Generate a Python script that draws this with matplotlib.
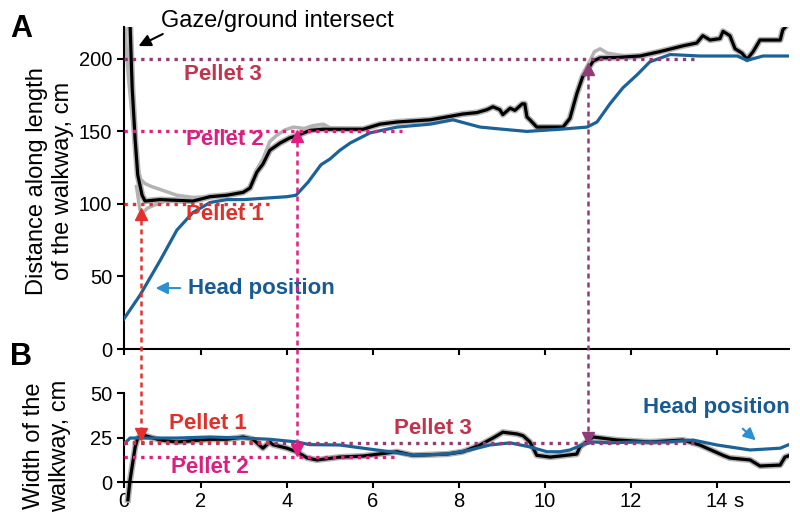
import matplotlib.pyplot as plt
from matplotlib.lines import Line2D

plt.rcParams['font.family'] = ['Liberation Sans', 'DejaVu Sans']

# couleurs
BLUE = '#1b6299'
BLUE_TXT = '#175a94'
ARROW_BLUE = '#2b8fd3'
RED = '#e5312b'
MAGENTA = '#e01f84'
PURPLE = '#8f3d78'
P3_TXT = '#c2334e'
GRAY = '#b3b3b3'

# --- A: distance along length of the walkway (cm) ---
head_t = [0.19, 0.58, 1.05, 1.44, 1.81, 2.21, 2.6, 3.0, 3.49, 4.0, 4.21, 4.49, 4.79, 5.0,
          5.23, 5.47, 5.93, 6.56, 7.33, 7.86, 8.49, 9.02, 9.58, 10.35, 10.98, 11.21, 11.51,
          11.81, 12.14, 12.44, 12.91, 13.6, 14.47, 14.7, 15.07, 15.65]
head_v = [20, 37, 61, 82, 94, 101, 103, 103, 104, 105, 106, 115, 127, 131,
          137, 142, 149, 153, 155, 158, 153, 151.5, 150, 151.5, 153, 156.5, 169,
          180, 189, 198, 203, 202, 202, 199, 202, 202]

gaze_t = [0.3, 0.35, 0.4, 0.47, 0.53, 0.63, 0.7, 1.05, 1.81, 2.21, 2.6, 2.98, 3.14, 3.3,
          3.44, 3.6, 3.84, 4.07, 4.23, 4.53, 4.84, 5.77, 6.16, 6.56, 7.33, 7.72, 8.09, 8.42,
          8.65, 8.79, 8.95, 9.02, 9.19, 9.3, 9.47, 9.53, 9.58, 9.65, 9.81, 10.12, 10.42,
          10.58, 10.74, 10.88, 11.0, 11.12, 11.28, 11.67, 12.21, 12.67, 13.21, 13.53, 13.67,
          13.84, 14.07, 14.14, 14.3, 14.42, 14.58, 14.7, 14.84, 15.0, 15.47, 15.53, 15.65]
gaze_v = [240, 225, 180, 144, 120, 106, 102, 103, 102, 105, 106, 108, 111, 122,
          127.5, 137, 142, 145.6, 147, 150.7, 151.5, 151.5, 155, 156.5, 158, 160, 162, 163,
          165, 167, 165, 161.6, 166, 164.5, 169, 169, 160, 158, 153, 153, 153,
          159, 176, 188, 193, 198.5, 200.7, 201, 202, 205, 209, 211, 216,
          213, 214, 219, 216, 207, 204, 199.7, 205, 213, 213, 220, 224]

# second estimate (gray) where it departs from the black trace
gray_traces = [
    ([0.2, 0.25, 0.32, 0.4, 0.5, 0.6, 0.7, 0.85, 1.05, 1.44, 1.81, 2.2, 2.6],
     [240, 212, 185, 160, 128, 117, 114, 112, 110, 106, 104.5, 105, 106]),
    ([0.5, 0.58, 0.65, 0.75, 0.9, 1.1],
     [112, 96, 94, 97, 99, 101]),
    ([3.14, 3.3, 3.44, 3.6, 3.75, 3.95, 4.15, 4.4, 4.6, 4.85, 5.0, 5.4],
     [112, 124, 131, 143, 147, 151, 153, 152, 154, 155, 152.5, 152]),
    ([10.6, 10.75, 10.9, 11.05, 11.15, 11.28, 11.45, 11.65, 11.9],
     [160, 178, 191, 199, 205, 207, 204, 203, 202]),
]

# --- B: width of the walkway (cm) ---
head_w_t = [0.19, 0.35, 0.65, 1.44, 2.21, 2.98, 3.6, 4.23, 4.53, 5.23, 5.77, 6.4, 6.93,
            7.72, 8.26, 8.72, 9.19, 9.65, 10.05, 10.35, 10.58, 10.88, 11.12, 11.51, 12.05,
            12.84, 13.44, 14.0, 14.77, 15.47, 15.65]
head_w_v = [20.8, 24.7, 24.7, 24.7, 25.3, 24.7, 24, 22.5, 21, 20.8, 19, 17, 15,
            15.7, 18, 20.8, 22, 19.7, 17, 17, 18, 21, 22.5, 22, 22.5,
            22.5, 23.6, 20.8, 18, 19, 20.8]

gaze_w_t = [0.3, 0.35, 0.47, 0.53, 0.65, 1.05, 1.44, 2.21, 2.6, 2.98, 3.21, 3.44, 3.6,
            3.67, 4.0, 4.23, 4.47, 4.7, 5.23, 5.77, 6.56, 6.93, 7.72, 8.09, 8.49, 8.79,
            9.02, 9.35, 9.49, 9.65, 9.81, 10.12, 10.35, 10.74, 10.81, 11.12, 11.67, 12.44,
            13.21, 13.6, 14.14, 14.3, 14.77, 15.0, 15.47, 15.58, 15.65]
gaze_w_v = [-10, 1, 19.7, 24.7, 26.4, 23.6, 22.5, 24, 24, 25.3, 24, 19, 22.5,
            21, 19, 17, 13.5, 12.4, 14, 14.6, 17, 15, 15.7, 17, 20.8, 24.7,
            28, 27, 26, 22.5, 15, 14, 14.6, 15.7, 19.7, 25.3, 23.6, 22.5,
            23.6, 20.8, 15, 13.5, 12.4, 9, 9.5, 14, 14.6]

# pellets: time of fixation, levels in A and B, marker levels, colours
pellet_names = ['Pellet 1', 'Pellet 2', 'Pellet 3']
pellet_time = [0.6, 4.23, 11.0]
pellet_len = [100, 150, 200]
pellet_len_end = [3.67, 6.67, 13.56]
pellet_wid = [22.6, 14.3, 21.9]
pellet_wid_end = [3.67, 6.5, 13.56]
mark_len = [93, 147, 193]
mark_wid = [27, 18, 25]
pellet_col = [RED, MAGENTA, PURPLE]
pellet_txt_col = ['#e0302a', '#d91f80', P3_TXT]

xlim = (0.21, 15.67)
xticks = [0.21, 2, 4, 6, 8, 10, 12, 14]
xticklabels = ['0', '2', '4', '6', '8', '10', '12', '14']

fig = plt.figure(figsize=(8, 5.22), dpi=100)
ax1 = fig.add_axes([0.155, 0.3314, 0.831, 0.6169])
ax2 = fig.add_axes([0.155, 0.0084, 0.831, 0.2387])

hdots = (0, (1, 1.5))
vdots = (0, (2, 1.6))

for ax in (ax1, ax2):
    ax.set_xlim(*xlim)
    for s in ('top', 'right'):
        ax.spines[s].set_visible(False)
    for s in ('left', 'bottom'):
        ax.spines[s].set_linewidth(1.5)
    ax.tick_params(direction='out', width=1.5, length=4, labelsize=14.5, pad=3.5)
    ax.set_xticks(xticks)
    ax.patch.set_alpha(0)

# panel A
ax1.set_ylim(0, 222)
ax1.set_yticks([0, 50, 100, 150, 200])
ax1.tick_params(axis='y', length=5)
ax1.set_xticklabels([])

for i in range(3):
    ax1.plot([xlim[0], pellet_len_end[i]], [pellet_len[i]] * 2, color=pellet_col[i],
             lw=2.4, linestyle=hdots, zorder=4)

ax1.plot(gaze_t, gaze_v, color=GRAY, lw=4.5, zorder=2, solid_joinstyle='round')
for gt, gv in gray_traces:
    ax1.plot(gt, gv, color=GRAY, lw=2.5, zorder=2)
ax1.plot(gaze_t, gaze_v, color='black', lw=2.3, zorder=3)
ax1.plot(head_t, head_v, color=BLUE, lw=2.3, zorder=3)

# panel B
ax2.set_ylim(-20, 50)
ax2.spines['bottom'].set_position(('data', 0))
ax2.spines['left'].set_bounds(0, 50)
ax2.set_yticks([0, 25, 50])
ax2.tick_params(axis='y', length=5)
ax2.set_xticklabels(xticklabels)

ax2.plot([xlim[0], pellet_wid_end[2]], [pellet_wid[2]] * 2, color=PURPLE,
         lw=2.4, linestyle=hdots, zorder=4)
for i in range(2):
    ax2.plot([xlim[0], pellet_wid_end[i]], [pellet_wid[i]] * 2, color=pellet_col[i],
             lw=2.4, linestyle=hdots, zorder=4)

ax2.plot(gaze_w_t, gaze_w_v, color=GRAY, lw=4.5, zorder=2)
ax2.plot(gaze_w_t, gaze_w_v, color='black', lw=2.3, zorder=3)
ax2.plot(head_w_t, head_w_v, color=BLUE, lw=2.3, zorder=3)

# fixation markers and vertical links between the two panels
to_fig = fig.transFigure.inverted()
for i in range(3):
    ax1.plot(pellet_time[i], mark_len[i], marker='^', ms=9, color=pellet_col[i],
             zorder=6, clip_on=False)
    ax2.plot(pellet_time[i], mark_wid[i], marker='v', ms=9, color=pellet_col[i],
             zorder=6, clip_on=False)
    xa, ya = to_fig.transform(ax1.transData.transform((pellet_time[i], mark_len[i] - 4)))
    xb, yb = to_fig.transform(ax2.transData.transform((pellet_time[i], mark_wid[i] + 2)))
    fig.add_artist(Line2D([xa, xb], [ya, yb], transform=fig.transFigure,
                          color=pellet_col[i], lw=1.8, linestyle=vdots, zorder=5))

# labels
lbl = dict(fontsize=16, fontweight='bold', ha='center', va='center')
ax1.text(2.55, 93, pellet_names[0], color=pellet_txt_col[0], **lbl)
ax1.text(2.56, 144.5, pellet_names[1], color=pellet_txt_col[1], **lbl)
ax1.text(2.52, 189.5, pellet_names[2], color=pellet_txt_col[2], **lbl)
ax1.text(3.4, 42, 'Head position', color=BLUE_TXT, **lbl)
ax1.annotate('', xy=(0.88, 42), xytext=(1.58, 42),
             arrowprops=dict(arrowstyle='-|>', color=ARROW_BLUE, lw=1.5,
                             mutation_scale=18))
ax1.annotate('', xy=(0.49, 208), xytext=(1.17, 218),
             arrowprops=dict(arrowstyle='-|>', color='black', lw=1.5,
                             mutation_scale=18), annotation_clip=False)

ax2.text(2.16, 33, pellet_names[0], color=pellet_txt_col[0], **lbl)
ax2.text(2.2, 7.9, pellet_names[1], color=pellet_txt_col[1], **lbl)
ax2.text(7.4, 29.8, pellet_names[2], color=pellet_txt_col[2], **lbl)
ax2.text(13.98, 41.6, 'Head position', color=BLUE_TXT, clip_on=False, **lbl)
ax2.annotate('', xy=(14.95, 22.4), xytext=(14.55, 31),
             arrowprops=dict(arrowstyle='-|>', color=ARROW_BLUE, lw=1.5,
                             mutation_scale=18), annotation_clip=False)
ax2.annotate('s', xy=(14, 0), xytext=(12, -7.5), textcoords='offset points',
             ha='left', va='top', fontsize=14.5)

fig.text(277 / 800, 1 - 27 / 522, 'Gaze/ground intersect', fontsize=17,
         ha='center', va='baseline')
fig.text(50 / 800, 1 - 181 / 522, 'Distance along length\nof the walkway, cm',
         fontsize=17, rotation=90, ha='center', va='center', linespacing=1.25)
fig.text(47 / 800, 1 - 446 / 522, 'Width of the\nwalkway, cm',
         fontsize=17, rotation=90, ha='center', va='center', linespacing=1.25)
fig.text(10 / 800, 1 - 37 / 522, 'A', fontsize=22, fontweight='bold', va='baseline')
fig.text(10 / 800, 1 - 365 / 522, 'B', fontsize=22, fontweight='bold', va='baseline')

fig.savefig('out.png', dpi=100)
